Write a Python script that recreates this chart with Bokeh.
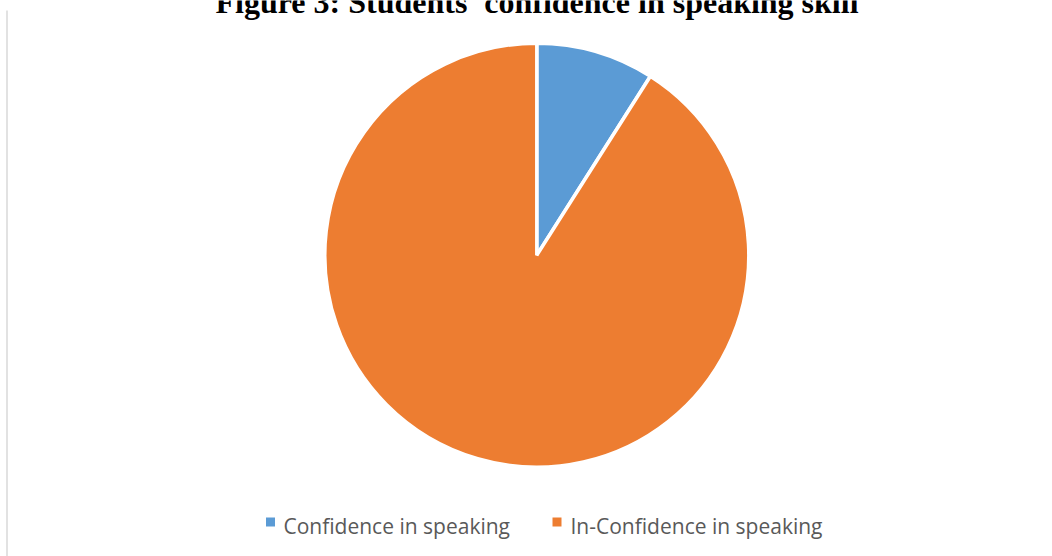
import math
from bokeh.plotting import figure
from bokeh.models import ColumnDataSource, Range1d
from bokeh.core.properties import value
from bokeh.embed import file_html
from bokeh.resources import INLINE

# ---- data ----
title_text = "Figure 3: Students' confidence in speaking skill"
categories = ["Confidence in speaking", "In-Confidence in speaking"]
values = [9, 91]
colors = ["#5B9BD5", "#ED7D31"]

W, H = 1052, 556
p = figure(width=W, height=H, output_backend="svg", toolbar_location=None,
           x_range=Range1d(0, W), y_range=Range1d(0, H),
           min_border=0, min_border_left=0, min_border_right=0,
           min_border_top=0, min_border_bottom=0)
p.axis.visible = False
p.grid.visible = False
p.outline_line_color = None
p.background_fill_color = "white"
p.border_fill_color = "white"

# left frame line
p.segment(x0=[6.5], y0=[0], x1=[6.5], y1=[H - 10], line_color="#d9d9d9", line_width=1.5)

# pie
cx, cy, r = 536.3, H - 254.7, 212
total = sum(values)
starts, ends = [], []
acc = 0.0
for v in values:
    a0 = math.pi / 2 - 2 * math.pi * acc / total
    acc += v
    a1 = math.pi / 2 - 2 * math.pi * acc / total
    starts.append(a0)
    ends.append(a1)
src = ColumnDataSource(dict(x=[cx] * len(values), y=[cy] * len(values),
                            start=starts, end=ends, color=colors, cat=categories))
p.wedge(x="x", y="y", radius=r, start_angle="start", end_angle="end",
        direction="clock", fill_color="color", line_color="white", line_width=3.5,
        source=src)

# title (baseline ~ y=13 from top, top of letters clipped as in the reference)
p.text(x=[536.5], y=[H - 1.5], text=[title_text], text_font=value("Liberation Serif"),
       text_font_style="bold", text_font_size="32px", text_align="center",
       text_baseline="alphabetic", text_color="#000000")

# legend
sq_x = [270, 556.5]
txt_x = [283, 570]
p.rect(x=sq_x, y=[H - 521.5] * 2, width=9, height=9, fill_color=colors, line_color=None)
p.text(x=txt_x, y=[H - 525.6] * 2, text=categories, text_font=value("Open Sans"),
       text_font_size="21px", text_align="left", text_baseline="alphabetic",
       text_color="#595959")

open("out.html", "w").write(file_html(p, INLINE))
